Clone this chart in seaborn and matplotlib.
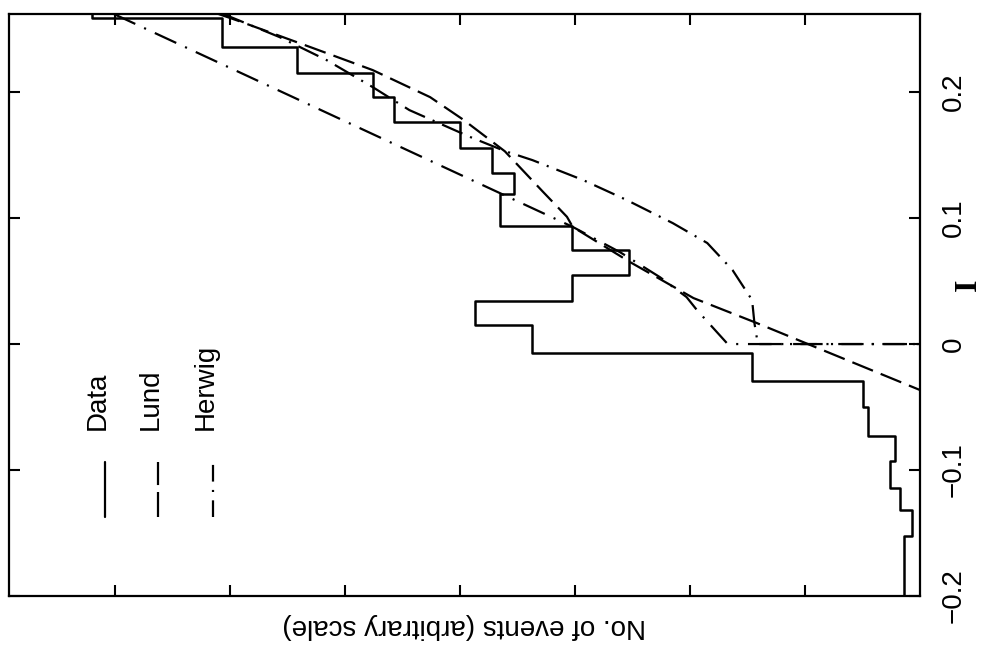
import numpy as np
import matplotlib
matplotlib.use("Agg")
import matplotlib.pyplot as plt
import seaborn as sns
from matplotlib.lines import Line2D

# ---- Data histogram (bins in I, counts in arbitrary units) ----
data_edges = [-0.200, -0.152, -0.132, -0.114, -0.093, -0.073, -0.050, -0.029, -0.007,
              0.015, 0.034, 0.055, 0.075, 0.094, 0.119, 0.136, 0.156, 0.176, 0.196,
              0.215, 0.236, 0.259, 0.280]
data_counts = [0.14, 0.07, 0.17, 0.26, 0.22, 0.45, 0.50, 1.46, 3.37, 3.87, 3.03, 2.53,
               3.03, 3.65, 3.53, 3.72, 4.00, 4.57, 4.76, 5.42, 6.07, 7.20]

# ---- Lund (dashed) ----
lund_I = [0.262, 0.256, 0.235, 0.2175, 0.196, 0.178, 0.153, 0.121, 0.101, 0.093,
          0.065, 0.0365, 0.0167, -0.0365]
lund_counts = [6.10, 5.91, 5.28, 4.76, 4.26, 3.97, 3.61, 3.28, 3.07, 3.02,
               2.52, 1.97, 1.42, 0.0]

# ---- Herwig (dash-dot, curved) ----
herwig_I = [0.262, 0.2587, 0.2437, 0.2254, 0.204, 0.1857, 0.1643, 0.1532, 0.146,
            0.1302, 0.1143, 0.096, 0.0802, 0.0587, 0.0349, 0.0167, 0.0, 0.0]
herwig_counts = [6.06, 5.97, 5.57, 5.16, 4.76, 4.44, 3.91, 3.61, 3.37,
                 2.93, 2.55, 2.15, 1.85, 1.63, 1.46, 1.44, 1.41, 0.0]

# ---- second dash-dot curve ----
herwig2_I = [0.262, 0.093, 0.073, 0.053, 0.0373, 0.027, 0.0008, 0.0, 0.0]
herwig2_counts = [7.01, 3.02, 2.61, 2.26, 2.03, 1.94, 1.68, 1.65, 0.0]

i_ticks = [-0.2, -0.1, 0.0, 0.1, 0.2]
i_tick_labels = ["\u22120.2", "\u22120.1", "0", "0.1", "0.2"]
count_ticks = [1, 2, 3, 4, 5, 6, 7]
legend_names = ["Data", "Lund", "Herwig"]

sns.set_theme(style="ticks")
plt.rcParams["font.family"] = ["Liberation Sans", "DejaVu Sans"]
plt.rcParams["lines.scale_dashes"] = False
plt.rcParams["axes.linewidth"] = 1.5

fig = plt.figure(figsize=(9.89, 6.48), dpi=100)
fig.patch.set_facecolor("white")
ax = fig.add_axes([9 / 989, (648 - 596) / 648, 911 / 989, 582 / 648])
ax.set_facecolor("white")

centers = [(a + b) / 2 for a, b in zip(data_edges[:-1], data_edges[1:])]
sns.histplot(y=centers, weights=data_counts, bins=data_edges, element="step",
             fill=False, color="black", linewidth=1.8, ax=ax)

lund_ls = (0, (16, 6))
herwig_ls = (0, (16, 6, 1.5, 6))
herwig2_ls = (0, (17, 7, 1.5, 7))

sns.lineplot(x=lund_counts, y=lund_I, sort=False, estimator=None, color="black",
             linewidth=1.6, linestyle=lund_ls, ax=ax)
sns.lineplot(x=herwig_counts, y=herwig_I, sort=False, estimator=None, color="black",
             linewidth=1.6, linestyle=herwig_ls, ax=ax)
sns.lineplot(x=herwig2_counts, y=herwig2_I, sort=False, estimator=None, color="black",
             linewidth=1.6, linestyle=herwig2_ls, ax=ax)

ax.set_xlim(7.922, 0)
ax.set_ylim(-0.2, 0.262)

for s in ax.spines.values():
    s.set_visible(True)
    s.set_color("black")
    s.set_linewidth(1.6)

ax.set_xticks(count_ticks)
ax.set_xticklabels([])
ax.tick_params(axis="x", which="major", direction="in", length=8, width=1.5,
               top=True, bottom=True, labelbottom=False, labeltop=False, color="black")
ax.set_yticks(i_ticks, i_tick_labels)
ax.tick_params(axis="y", which="major", direction="in", length=8, width=1.5,
               left=True, right=True, labelleft=False, labelright=True,
               labelsize=20, pad=15, color="black", labelcolor="black")
for t in ax.yaxis.get_major_ticks():
    t.label2.set_rotation(90)
    t.label2.set_va("center")
    t.label2.set_ha("left")

ax.set_xlabel("No. of events (arbitrary scale)", rotation=180, fontsize=20,
              labelpad=12, color="black")
ax.yaxis.set_label_position("right")
ax.set_ylabel("I", fontsize=23, fontweight="bold",
              family=["Liberation Serif", "DejaVu Serif"], color="black")
ax.yaxis.label.set_rotation(90)
ax.yaxis.label.set_rotation_mode("default")
ax.yaxis.label.set_ha("center")
ax.yaxis.label.set_va("center")
ax.yaxis.set_label_coords(1.053, 0.534)

# ---- legend (rotated, drawn in axes fraction) ----
leg_x = [0.1054, 0.1636, 0.2239]
leg_styles = ["-", (0, (18, 5)), (0, (12, 6, 1.5, 6))]
for x, name, ls in zip(leg_x, legend_names, leg_styles):
    ax.add_line(Line2D([x, x], [0.1357, 0.2302], transform=ax.transAxes,
                       color="black", linewidth=1.6, linestyle=ls))
    ax.text(x, 0.2852, name, transform=ax.transAxes, rotation=90,
            rotation_mode="anchor", ha="left", va="baseline", fontsize=20,
            color="black")

fig.savefig("out.png", dpi=100, facecolor="white")
